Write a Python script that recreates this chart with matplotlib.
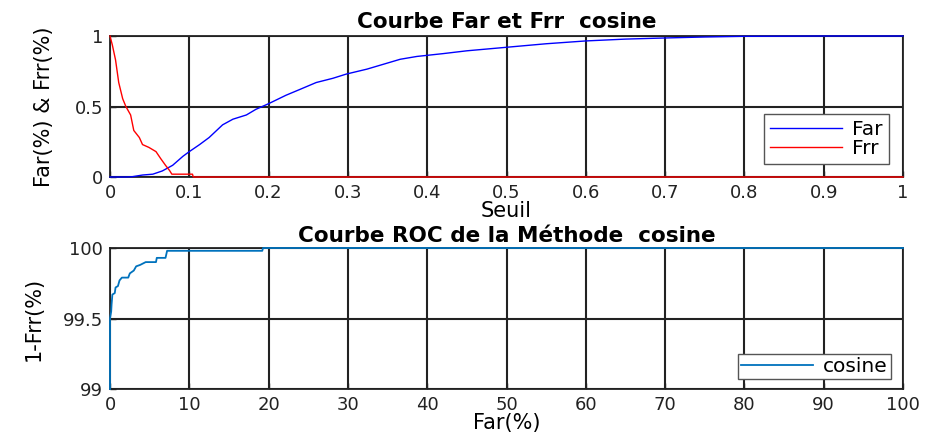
import matplotlib
matplotlib.use("Agg")
import matplotlib.pyplot as plt

# ---- data ----
seuil_far = [0.0, 0.02, 0.028, 0.041, 0.054, 0.066, 0.079, 0.092, 0.1, 0.113, 0.125, 0.142, 0.155,
             0.172, 0.184, 0.2, 0.222, 0.239, 0.26, 0.281, 0.298, 0.324, 0.345, 0.366, 0.387,
             0.42, 0.45, 0.5, 0.55, 0.6, 0.65, 0.7, 0.75, 0.8, 0.9, 1.0]
far = [0.0, 0.0, 0.002, 0.014, 0.02, 0.043, 0.083, 0.147, 0.18, 0.23, 0.28, 0.37, 0.41,
       0.44, 0.48, 0.52, 0.58, 0.62, 0.67, 0.70, 0.73, 0.765, 0.80, 0.835, 0.855,
       0.875, 0.895, 0.92, 0.945, 0.965, 0.978, 0.986, 0.993, 0.998, 1.0, 1.0]

seuil_frr = [0.0, 0.003, 0.007, 0.011, 0.016, 0.02, 0.026, 0.03, 0.037, 0.041, 0.049, 0.058,
             0.064, 0.07, 0.075, 0.078, 0.104, 0.105, 1.0]
frr = [1.0, 0.935, 0.83, 0.67, 0.555, 0.5, 0.44, 0.33, 0.28, 0.23, 0.21, 0.18,
       0.13, 0.083, 0.047, 0.02, 0.02, 0.0, 0.0]

roc_far = [0, 0, 0.15, 0.2, 0.3, 0.6, 0.7, 1.0, 1.2, 1.5, 2.3, 2.5, 3.0, 3.3, 3.8, 4.5,
           5.8, 5.9, 7.0, 7.2, 19.2, 19.3, 100]
roc_tar = [99, 99.5, 99.55, 99.6, 99.67, 99.68, 99.72, 99.73, 99.77, 99.79, 99.79, 99.82,
           99.84, 99.87, 99.88, 99.9, 99.9, 99.93, 99.93, 99.98, 99.98, 100, 100]

top_xticks = [0, 0.1, 0.2, 0.3, 0.4, 0.5, 0.6, 0.7, 0.8, 0.9, 1]
top_xlabels = ["0", "0.1", "0.2", "0.3", "0.4", "0.5", "0.6", "0.7", "0.8", "0.9", "1"]
top_yticks = [0, 0.5, 1]
top_ylabels = ["0", "0.5", "1"]
bot_xticks = [0, 10, 20, 30, 40, 50, 60, 70, 80, 90, 100]
bot_yticks = [99, 99.5, 100]
bot_ylabels = ["99", "99.5", "100"]

plt.rcParams['font.family'] = ['DejaVu Sans']

fig = plt.figure(figsize=(9.3, 4.38), dpi=100)
W, H = 930, 438
def rect(l, t, r, b):
    return [l / W, 1 - b / H, (r - l) / W, (b - t) / H]

ax1 = fig.add_axes(rect(110, 36, 903, 177))
ax2 = fig.add_axes(rect(110, 248, 903, 389))

fs = 13
for ax in (ax1, ax2):
    ax.grid(True, color="#222222", linewidth=1.5, linestyle='-')
    ax.set_axisbelow(True)
    for s in ax.spines.values():
        s.set_color("#222222")
        s.set_linewidth(1.3)
    ax.tick_params(direction='in', length=4, width=1.0, colors="#222222",
                   labelsize=fs, pad=5)

ax1.plot(seuil_far, far, color="#0000ff", linewidth=1.0, label="Far", zorder=5, clip_on=False)
ax1.plot(seuil_frr, frr, color="#ff0000", linewidth=1.0, label="Frr", zorder=5, clip_on=False)
ax1.set_xlim(0, 1)
ax1.set_ylim(0, 1)
ax1.set_xticks(top_xticks)
ax1.set_xticklabels(top_xlabels)
ax1.set_yticks(top_yticks)
ax1.set_yticklabels(top_ylabels)
ax1.set_title("Courbe Far et Frr  cosine", fontsize=15.5, fontweight='bold', pad=6)
ax1.set_xlabel("Seuil", fontsize=15, labelpad=-1)
ax1.set_ylabel("Far(%) & Frr(%)", fontsize=15, labelpad=15)
leg1 = ax1.legend(loc='lower right', bbox_to_anchor=(0.982, 0.09), fontsize=14.5,
                  fancybox=False, framealpha=1, edgecolor="#555555",
                  handlelength=3.6, borderpad=0.3, labelspacing=0.0, handletextpad=0.5,
                  borderaxespad=0)
leg1.get_frame().set_linewidth(1.0)
leg1.set_zorder(10)

ax2.plot(roc_far, roc_tar, color="#0072bd", linewidth=1.3, label="cosine", zorder=5, clip_on=False)
ax2.set_xlim(0, 100)
ax2.set_ylim(99, 100)
ax2.set_xticks(bot_xticks)
ax2.set_yticks(bot_yticks)
ax2.set_yticklabels(bot_ylabels)
ax2.set_title("Courbe ROC de la Méthode  cosine", fontsize=15.5, fontweight='bold', pad=4)
ax2.set_xlabel("Far(%)", fontsize=15, labelpad=-1)
ax2.set_ylabel("1-Frr(%)", fontsize=15, labelpad=14)
leg2 = ax2.legend(loc='lower right', bbox_to_anchor=(0.985, 0.07), fontsize=14.5,
                  fancybox=False, framealpha=1, edgecolor="#555555",
                  handlelength=3.6, borderpad=0.15, handletextpad=0.5, borderaxespad=0)
leg2.get_frame().set_linewidth(1.0)
leg2.set_zorder(10)

fig.savefig("out.png", dpi=100)
